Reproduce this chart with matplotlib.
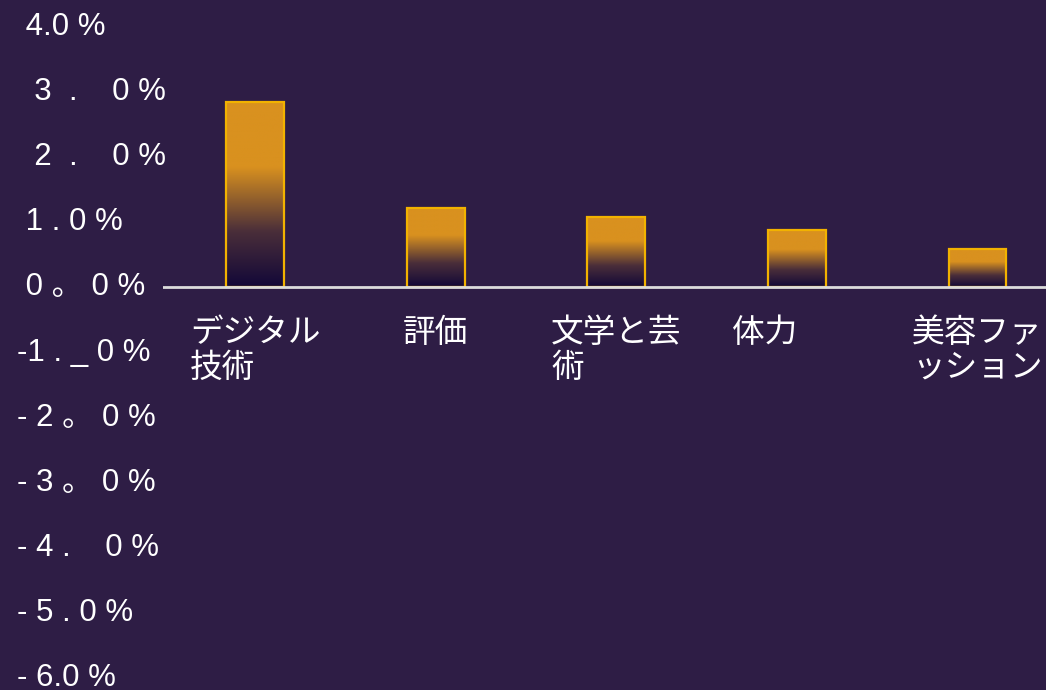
import numpy as np
import matplotlib
matplotlib.use("Agg")
from matplotlib import pyplot as plt
from matplotlib.colors import LinearSegmentedColormap
from matplotlib.transforms import ScaledTranslation

plt.rcParams['font.family'] = ['Liberation Sans', 'Noto Sans CJK JP', 'DejaVu Sans']

# growth by category (percent)
categories = ['デジタル\n技術', '評価', '文学と芸\n術', '体力\u3000\u3000', '美容ファ\nッション']
values = [2.84, 1.22, 1.08, 0.88, 0.59]

ytick_values = [4, 3, 2, 1, 0, -1, -2, -3, -4, -5, -6]
ytick_labels = [' 4.0 %', '  3  .    0 %', '  2  .    0 %', ' 1 . 0 %', ' 0 。 0 %',
                '-1 . _ 0 %', '- 2 。 0 %', '- 3 。 0 %', '- 4 .    0 %',
                '- 5 . 0 %', '- 6.0 %']

bg = '#2e1d45'
fig = plt.figure(figsize=(10.46, 6.9), dpi=100, facecolor=bg)
ax = fig.add_axes([0.156, 0.018, 0.844, 0.9435], facecolor=bg)

x = np.arange(len(categories))
bar_w = 0.32
bars = ax.bar(x, values, width=bar_w, facecolor='none', edgecolor='#f2b200',
              linewidth=1.6, zorder=3)

# vertical fade: dark at the base, orange in the upper part
cmap = LinearSegmentedColormap.from_list(
    'fade', [(0.0, '#120838'), (0.3, '#4a2e3a'), (0.65, '#d9911f'), (1.0, '#d9911f')])
grad = np.linspace(0, 1, 256).reshape(-1, 1)
for b in bars:
    bx, by = b.get_x(), b.get_y()
    im = ax.imshow(grad, cmap=cmap, origin='lower', aspect='auto',
                   extent=(bx, bx + b.get_width(), by, by + b.get_height()), zorder=2)
    im.set_clip_path(b)

ax.set_xlim(-0.51, 4.38)
ax.set_ylim(-6, 4)

ax.axhline(0, color='#dcdcdc', linewidth=2, zorder=4)
for s in ax.spines.values():
    s.set_visible(False)

ax.set_yticks(ytick_values)
ax.set_yticklabels(ytick_labels, fontsize=22.5, color='white', ha='left')
ax.tick_params(axis='y', length=0, pad=105)
# nudge the tick labels up a little
lift = ScaledTranslation(0, 3 / 100, fig.dpi_scale_trans)
for lab in ax.get_yticklabels():
    lab.set_transform(lab.get_transform() + lift)

ax.set_xticks([])
for xi, lab in zip(x, categories):
    ax.text(xi, -0.46, lab, fontsize=23.5, color='white', ha='center', va='top',
            multialignment='left', linespacing=1.12,
            family=['Noto Sans CJK JP', 'DejaVu Sans'])

fig.savefig('out.png', dpi=100, facecolor=bg)
